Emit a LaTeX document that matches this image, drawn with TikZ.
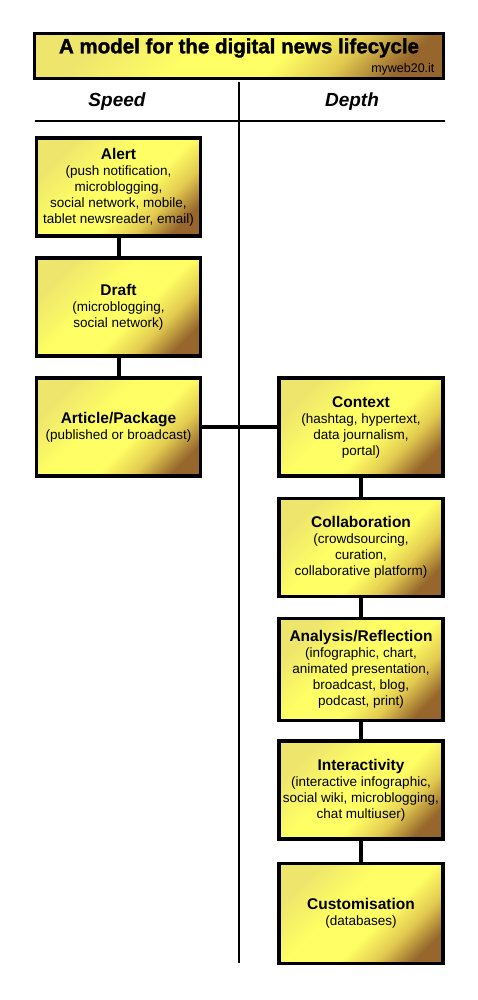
\documentclass[tikz,border=0pt]{standalone}
\usepackage{fontspec}
\setmainfont{Liberation Sans}
\newfontfamily\heavyfont[FakeBold=1.6]{Liberation Sans Bold}
\usepackage{tikz}
\usetikzlibrary{positioning}
\definecolor{mygoldlt}{RGB}{238,230,108}
\definecolor{mygoldmid}{RGB}{255,254,100}
\definecolor{mygoldmd}{RGB}{226,202,80}
\definecolor{mygolddk}{RGB}{150,102,44}
\pgfdeclarehorizontalshading{goldshade}{100bp}{color(0bp)=(mygoldlt);
  color(26bp)=(mygoldlt); color(42bp)=(mygoldmid); color(57bp)=(mygoldmid);
  color(67bp)=(mygoldmd); color(77bp)=(mygolddk); color(100bp)=(mygolddk)}

\newcommand{\boxhead}[1]{{\fontsize{15.5}{18}\selectfont\bfseries #1}}

\begin{document}
\begin{tikzpicture}[x=1pt, y=-1pt,
  goldfill/.style={shading=goldshade, shading angle=-45},
  stagebox/.style={draw, line width=3.5pt, goldfill,
                   minimum width=164pt, minimum height=98pt,
                   align=center, font=\fontsize{13.5}{16}\selectfont},
  link/.style={line width=4pt},
  rule/.style={line width=1.2pt},
  colhead/.style={font=\fontsize{19}{22}\selectfont\bfseries\itshape}]
  \fill[white] (0,0) rectangle (477,1000);
  \useasboundingbox (0,0) rectangle (477,1000);
  % title
  \node[draw, line width=3.5pt, goldfill, minimum width=409pt,
        minimum height=45pt] (title) at (239,56) {};
  \node[font=\fontsize{20.5}{24}\heavyfont] (titletext)
    at (239,48) {A model for the digital news lifecycle};
  \node[font=\fontsize{12.5}{14}\selectfont, anchor=east] (site)
    at (438,69) {myweb20.it};
  % columns
  \draw[rule] (239,82) -- (239,963);
  \draw[rule] (35,121) -- (445,121);
  \node[colhead] (speed) at (117,102) {Speed};
  \node[colhead] (depth) at (352,102) {Depth};
  % speed
  \node[stagebox] (alert) at (118.5,187) {\boxhead{Alert}\\(push notification,\\microblogging,\\social network, mobile,\\tablet newsreader, email)};
  \node[stagebox] (draft) at (118.5,307) {\boxhead{Draft}\\(microblogging,\\social network)};
  \node[stagebox] (article) at (118.5,427) {\boxhead{Article/Package}\\(published or broadcast)};
  % depth
  \node[stagebox] (context) at (361,427) {\boxhead{Context}\\(hashtag, hypertext,\\data journalism,\\portal)};
  \node[stagebox] (collab) at (361,547.5) {\boxhead{Collaboration}\\(crowdsourcing,\\curation,\\collaborative platform)};
  \node[stagebox, minimum height=102pt] (analysis) at (361,669.5) {\boxhead{Analysis/Reflection}\\(infographic, chart,\\animated presentation,\\broadcast, blog,\\podcast, print)};
  \node[stagebox] (interact) at (361,790) {\boxhead{Interactivity}\\(interactive infographic,\\social wiki, microblogging,\\chat multiuser)};
  \node[stagebox, minimum height=100pt] (custom) at (361,913.5) {\boxhead{Customisation}\\(databases)};
  % links
  \draw[link] (alert) -- (draft);
  \draw[link] (draft) -- (article);
  \draw[link] (article.east) -- (context.west);
  \draw[link] (context) -- (collab);
  \draw[link] (collab) -- (analysis);
  \draw[link] (analysis) -- (interact);
  \draw[link] (interact) -- (custom);
\end{tikzpicture}
\end{document}
